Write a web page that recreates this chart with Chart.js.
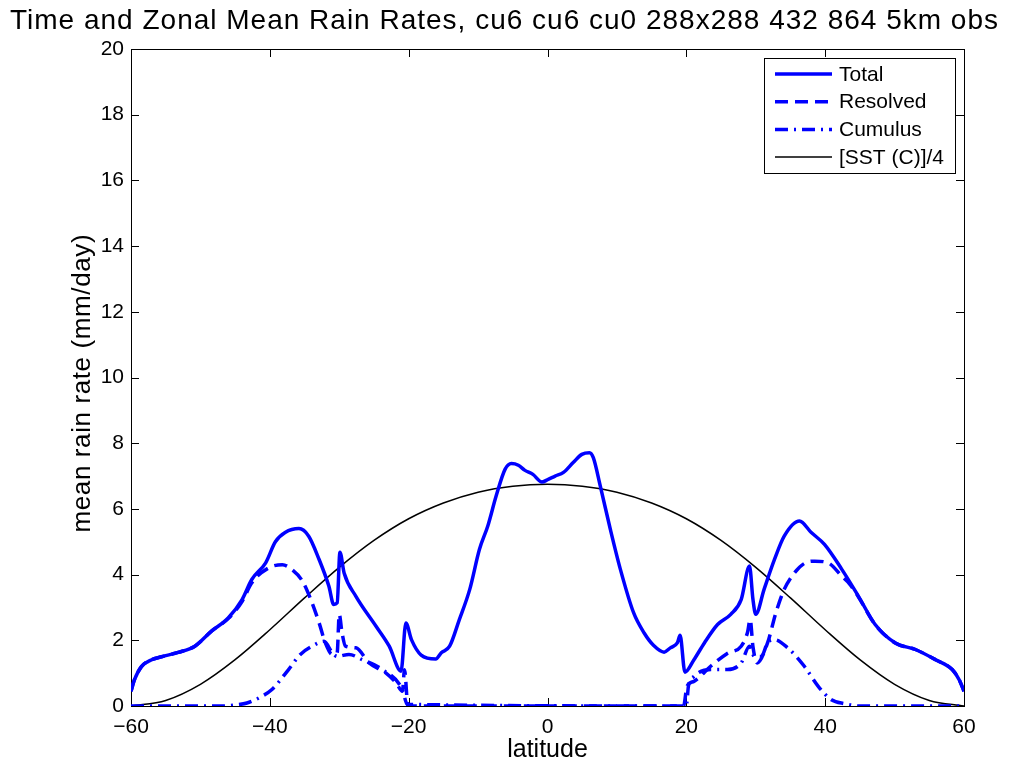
<!DOCTYPE html>
<html>
<head>
<meta charset="utf-8">
<script src="https://cdn.jsdelivr.net/npm/chart.js@4.4.1/dist/chart.umd.min.js"></script>
<style>
  html, body { margin: 0; padding: 0; background: #fff; }
  canvas { display: block; }
</style>
</head>
<body>
<canvas id="rainChart" width="1018" height="766"></canvas>
<script>
// values
const totalLat = [-60, -59.5, -58.5, -57.1, -55.6, -53.2, -50.8, -48.4, -46.0, -44.0, -42.6, -40.6, -39.2, -37.8, -35.8, -34.4, -32.9, -31.5, -30.8, -30.3, -29.9, -29.3, -27.6, -24.7, -22.8, -21.1, -20.4, -19.6, -18.2, -16.1, -15.3, -14.1, -12.7, -11.2, -9.8, -8.6, -7.4, -6.1, -5.2, -4.2, -3.3, -2.1, -0.8, 0.1, 1.1, 2.3, 3.7, 4.95, 6.05, 6.6, 7.6, 9.05, 10.5, 12.4, 13.9, 15.3, 16.8, 17.7, 18.7, 19.1, 19.8, 21.1, 22.6, 24.5, 26.4, 27.9, 29.1, 29.6, 30.0, 31.2, 32.7, 34.1, 36.3, 38.0, 39.9, 42.4, 44.8, 47.2, 50.1, 53.0, 55.9, 58.3, 59.3, 60];
const totalRate = [0.45, 0.8, 1.2, 1.4, 1.5, 1.63, 1.82, 2.28, 2.68, 3.24, 3.85, 4.36, 5.0, 5.28, 5.4, 5.17, 4.46, 3.65, 3.09, 3.14, 4.68, 4.05, 3.34, 2.43, 1.82, 1.06, 2.53, 2.02, 1.55, 1.43, 1.62, 1.82, 2.63, 3.55, 4.77, 5.48, 6.39, 7.21, 7.38, 7.33, 7.18, 7.05, 6.82, 6.9, 7.0, 7.11, 7.41, 7.66, 7.71, 7.56, 6.7, 5.38, 4.16, 2.84, 2.23, 1.84, 1.64, 1.77, 1.92, 2.15, 1.03, 1.41, 1.92, 2.48, 2.79, 3.24, 4.26, 3.24, 2.79, 3.55, 4.46, 5.17, 5.63, 5.28, 4.92, 4.16, 3.34, 2.48, 1.92, 1.72, 1.41, 1.11, 0.8, 0.45];

const resolvedLat = [-60, -59.5, -58.5, -57.1, -55.6, -53.2, -50.8, -48.4, -46.0, -44.0, -42.6, -40.2, -38.2, -36.8, -35.3, -34.1, -32.9, -32.0, -31.0, -30.3, -30.0, -29.6, -29.1, -27.6, -25.7, -23.3, -21.8, -20.9, -20.6, -20.1, 19.6, 20.1, 21.1, 23.5, 25.9, 27.9, 28.8, 29.2, 29.6, 30.2, 31.7, 32.9, 34.1, 35.6, 37.0, 38.5, 40.4, 42.4, 43.5, 44.8, 47.2, 50.1, 53.0, 55.9, 58.3, 59.3, 60];
const resolvedRate = [0.45, 0.8, 1.2, 1.4, 1.5, 1.63, 1.82, 2.28, 2.66, 3.18, 3.75, 4.2, 4.3, 4.15, 3.8, 3.24, 2.53, 1.92, 1.57, 1.62, 2.79, 2.23, 1.82, 1.77, 1.31, 1.01, 0.7, 0.45, 1.1, 0, 0, 0.6, 0.75, 1.21, 1.6, 1.82, 2.23, 2.63, 1.8, 1.31, 1.92, 2.84, 3.55, 4.06, 4.34, 4.41, 4.36, 3.95, 3.72, 3.32, 2.48, 1.92, 1.72, 1.41, 1.11, 0.8, 0.45];

const cumulusLat = [-60, -47, -45, -43.3, -41.1, -39.7, -37.3, -35.6, -33.9, -32.2, -31.0, -30.3, -28.6, -26.7, -23.8, -20.9, -20.2, 20.0, 20.3, 21.1, 23.5, 25.9, 27.9, 29.1, 29.8, 30.8, 31.7, 32.7, 34.6, 37.0, 39.0, 40.9, 42.8, 45, 60];
const cumulusRate = [0, 0, 0.03, 0.09, 0.3, 0.5, 1.11, 1.57, 1.82, 1.97, 1.62, 1.51, 1.57, 1.41, 1.11, 0.5, 0.05, 0, 0.6, 0.9, 1.11, 1.11, 1.31, 1.82, 1.51, 1.51, 1.92, 2.02, 1.77, 1.21, 0.6, 0.19, 0.07, 0, 0];

const sstLat = [-60, -55, -50, -45, -40, -35, -30, -25, -20, -15, -10, -5, 0, 5, 10, 15, 20, 25, 30, 35, 40, 45, 50, 55, 60];
const sstQuarter = [0, 0.17, 0.66, 1.41, 2.32, 3.29, 4.22, 5.04, 5.7, 6.18, 6.51, 6.69, 6.75, 6.69, 6.51, 6.18, 5.7, 5.04, 4.22, 3.29, 2.32, 1.41, 0.66, 0.17, 0];

const xTicks = [-60, -40, -20, 0, 20, 40, 60];
const xTickLabels = ['\u221260', '\u221240', '\u221220', '0', '20', '40', '60'];
const yTicks = [0, 2, 4, 6, 8, 10, 12, 14, 16, 18, 20];

const FONT = '"Liberation Sans", Arial, sans-serif';
const BLUE = '#0000ff';

function pairs(xs, ys) {
    return xs.map((x, i) => ({ x: x, y: ys[i] }));
}

// draws a string so that it spans a given width
function fitText(ctx, text, x, y, width) {
    ctx.letterSpacing = '0px';
    const w = ctx.measureText(text).width;
    const gap = (width - w) / (text.length - 1);
    ctx.letterSpacing = gap.toFixed(2) + 'px';
    ctx.textAlign = 'left';
    ctx.fillText(text, x - width / 2, y);
    ctx.letterSpacing = '0px';
}

// axes box, inward ticks, labels, title
const framePlugin = {
    id: 'frame',
    beforeDatasetsDraw(chart) {
        const { ctx, chartArea: a, scales } = chart;
        ctx.save();
        ctx.strokeStyle = '#000';
        ctx.lineWidth = 1;
        ctx.beginPath();
        xTicks.forEach(v => {
            const px = Math.round(scales.x.getPixelForValue(v)) + 0.5;
            ctx.moveTo(px, a.bottom); ctx.lineTo(px, a.bottom - 8);
            ctx.moveTo(px, a.top); ctx.lineTo(px, a.top + 8);
        });
        yTicks.forEach(v => {
            const py = Math.round(scales.y.getPixelForValue(v)) + 0.5;
            ctx.moveTo(a.left, py); ctx.lineTo(a.left + 8, py);
            ctx.moveTo(a.right, py); ctx.lineTo(a.right - 8, py);
        });
        ctx.stroke();
        ctx.strokeRect(Math.round(a.left) + 0.5, Math.round(a.top) + 0.5,
            Math.round(a.right - a.left), Math.round(a.bottom - a.top));
        ctx.restore();
    },
    afterDraw(chart) {
        const { ctx, chartArea: a } = chart;
        ctx.save();
        ctx.fillStyle = '#000';
        ctx.textBaseline = 'alphabetic';

        ctx.font = '28px ' + FONT;
        fitText(ctx, 'Time and Zonal Mean Rain Rates, cu6 cu6 cu0 288x288 432 864 5km obs', 504, 29, 988);

        ctx.font = '25px ' + FONT;
        ctx.textAlign = 'center';
        ctx.textBaseline = 'middle';
        ctx.fillText('latitude', (a.left + a.right) / 2, 750);

        ctx.translate(83, (a.top + a.bottom) / 2 + 6);
        ctx.rotate(-Math.PI / 2);
        ctx.font = '26px ' + FONT;
        ctx.textBaseline = 'middle';
        fitText(ctx, 'mean rain rate (mm/day)', 0, 0, 298);
        ctx.restore();

        // legend
        ctx.save();
        const lx = 764.5, ly = 58.5, lw = 191, lh = 115;
        ctx.fillStyle = '#fff';
        ctx.fillRect(lx, ly, lw, lh);
        ctx.strokeStyle = '#000';
        ctx.lineWidth = 1;
        ctx.strokeRect(lx, ly, lw, lh);
        ctx.font = '21px ' + FONT;
        ctx.textAlign = 'left';
        ctx.textBaseline = 'middle';
        chart.data.datasets.forEach((ds, i) => {
            const y = 74 + i * 27.7;
            ctx.beginPath();
            ctx.strokeStyle = ds.borderColor;
            ctx.lineWidth = ds.borderWidth;
            ctx.setLineDash(ds.borderDash || []);
            ctx.moveTo(775, y); ctx.lineTo(832, y);
            ctx.stroke();
            ctx.setLineDash([]);
            ctx.fillStyle = '#000';
            ctx.fillText(ds.label, 839, y + 1);
        });
        ctx.restore();
    }
};

new Chart(document.getElementById('rainChart'), {
    type: 'line',
    data: {
        datasets: [
            { label: 'Total', data: pairs(totalLat, totalRate), borderColor: BLUE, borderWidth: 3.5 },
            { label: 'Resolved', data: pairs(resolvedLat, resolvedRate), borderColor: BLUE, borderWidth: 3.5, borderDash: [13, 7] },
            { label: 'Cumulus', data: pairs(cumulusLat, cumulusRate), borderColor: BLUE, borderWidth: 3.5, borderDash: [13, 6, 2, 6] },
            { label: '[SST (C)]/4', data: pairs(sstLat, sstQuarter), borderColor: '#000', borderWidth: 1.5 }
        ]
    },
    options: {
        responsive: false,
        animation: false,
        devicePixelRatio: 1,
        layout: { padding: { left: 0, right: 54, top: 49, bottom: 0 } },
        elements: {
            point: { radius: 0 },
            line: { cubicInterpolationMode: 'monotone', borderCapStyle: 'butt', borderJoinStyle: 'round' }
        },
        plugins: { legend: { display: false }, title: { display: false }, tooltip: { enabled: false } },
        scales: {
            x: {
                type: 'linear', min: -60, max: 60,
                afterBuildTicks: s => { s.ticks = xTicks.map(v => ({ value: v })); },
                afterFit: s => { s.height = 60; },
                grid: { display: false, drawTicks: false },
                border: { display: false },
                ticks: {
                    color: '#000', font: { size: 21, family: FONT }, padding: 9, maxRotation: 0,
                    callback: (v, i) => xTickLabels[i]
                }
            },
            y: {
                min: 0, max: 20,
                afterBuildTicks: s => { s.ticks = yTicks.map(v => ({ value: v })); },
                afterFit: s => { s.width = 131; },
                grid: { display: false, drawTicks: false },
                border: { display: false },
                ticks: { color: '#000', font: { size: 21, family: FONT }, padding: 7 }
            }
        }
    },
    plugins: [framePlugin]
});
</script>
</body>
</html>
